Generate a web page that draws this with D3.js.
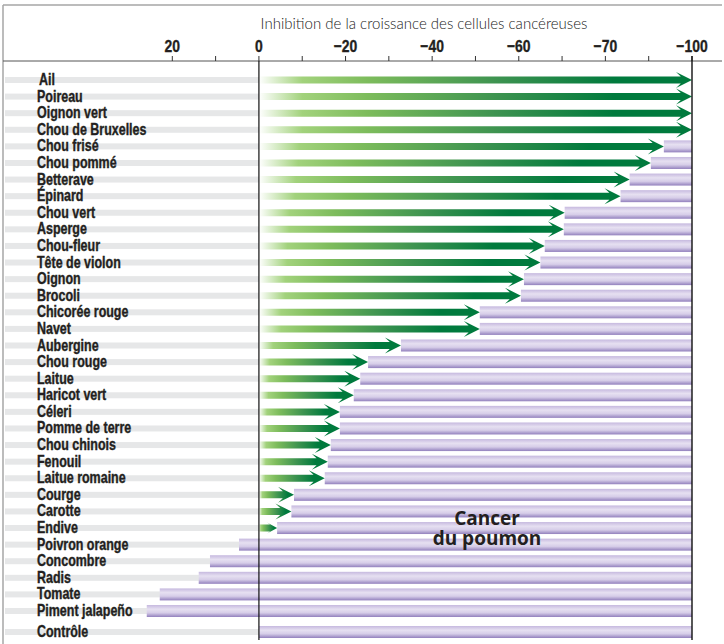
<!DOCTYPE html>
<html>
<head>
<meta charset="utf-8">
<script src="https://cdn.jsdelivr.net/npm/d3@7"></script>
<style>
  body { margin:0; background:#fff; }
  .lbl { font-family:"Liberation Sans",Arial,sans-serif; font-weight:bold; fill:#231f20; stroke:#231f20; stroke-width:0.35px; }
</style>
</head>
<body>
<svg id="chart" width="724" height="644"></svg>
<script>
// légumes (de haut en bas) et inhibition (%) ; valeurs positives = stimulation
var legumes = ["Ail","Poireau","Oignon vert","Chou de Bruxelles","Chou frisé","Chou pommé",
  "Betterave","Épinard","Chou vert","Asperge","Chou-fleur","Tête de violon","Oignon","Brocoli",
  "Chicorée rouge","Navet","Aubergine","Chou rouge","Laitue","Haricot vert","Céleri",
  "Pomme de terre","Chou chinois","Fenouil","Laitue romaine","Courge","Carotte","Endive",
  "Poivron orange","Concombre","Radis","Tomate","Piment jalapeño"];
var inhibition = [-100,-100,-100,-100,-93.5,-90.5,-85.6,-83.5,-70.6,-70.4,-66,-65,-61.2,-60.5,
  -51,-51,-32.8,-25.2,-23.4,-21.9,-18.7,-18.7,-16.6,-15.9,-15.2,-8.1,-7.5,-4.2,
  4.6,11.3,13.9,22.9,25.9];
var controle = {name:"Contrôle", value:0};

var tickValues = [20,0,-20,-40,-60,-80,-100];
var tickLabels = ["20","0","\u221220","\u221240","\u221260","\u221270","\u2212100"];
var minorTicks = [10,-10,-30,-50,-70,-90];

var titre = "Inhibition de la croissance des cellules cancéreuses";
var note = ["Cancer","du poumon"];

var svg = d3.select("#chart");
var defs = svg.append("defs");

var x = d3.scaleLinear().domain([20,-100]).range([172.3,692]);
var y = d3.scalePoint().domain(legumes).range([80,611]);
var yCtrl = 632;

var rows = legumes.map(function(d,i){ return {name:d, value:inhibition[i], y:y(d)}; });
rows.push({name:controle.name, value:controle.value, y:yCtrl});

// dégradés
var g1 = defs.append("linearGradient").attr("id","vert");
[[0,"#ffffff"],[0.1,"#a2d27c"],[0.25,"#7dbc5c"],[0.55,"#3d9350"],[0.82,"#007a3d"],[1,"#007a3d"]]
  .forEach(function(s){ g1.append("stop").attr("offset",s[0]).attr("stop-color",s[1]); });
var g2 = defs.append("linearGradient").attr("id","mauve").attr("x1",0).attr("x2",0).attr("y1",0).attr("y2",1);
[[0,"#c6b9df"],[0.35,"#e6e0f1"],[0.65,"#d6cde8"],[1,"#9280bd"]]
  .forEach(function(s){ g2.append("stop").attr("offset",s[0]).attr("stop-color",s[1]); });

// cadre
svg.append("line").attr("x1",3).attr("x2",722).attr("y1",5).attr("y2",5).attr("stroke","#a6a6a6").attr("stroke-width",1.5);
svg.append("line").attr("x1",3).attr("x2",3).attr("y1",5).attr("y2",644).attr("stroke","#a6a6a6").attr("stroke-width",1.5);

// titre
svg.append("text").attr("x",424).attr("y",29).attr("text-anchor","middle")
  .style("font-family","Lato, 'Open Sans', sans-serif").style("font-weight",300)
  .style("font-size","15px").style("fill","#222").text(titre);

// axe
var axe = svg.append("g").attr("transform","translate(0,61)");
axe.append("line").attr("x1",3).attr("x2",722).attr("stroke","#555").attr("stroke-width",1);
axe.selectAll(".tk").data(tickValues.concat(minorTicks)).enter().append("line")
  .attr("x1",function(d){return x(d);}).attr("x2",function(d){return x(d);})
  .attr("y1",-5).attr("y2",0).attr("stroke","#333").attr("stroke-width",1);
axe.selectAll(".tl").data(tickValues).enter().append("text").attr("class","lbl")
  .attr("transform",function(d){return "translate("+x(d)+",-9) scale(0.82,1)";})
  .attr("text-anchor","middle")
  .style("font-size","17px").text(function(d,i){return tickLabels[i];});

// bandes grises
svg.selectAll(".band").data(rows).enter().append("rect")
  .attr("x",5).attr("width",x(0)-5).attr("y",function(d){return d.y-3;}).attr("height",6)
  .attr("fill","#e6e7e8");

// barres mauves (cellules restantes)
svg.selectAll(".bar").data(rows.filter(function(d){return d.value>-100;})).enter().append("rect")
  .attr("x",function(d){return x(d.value);}).attr("width",function(d){return x(-100)-x(d.value);})
  .attr("y",function(d){return d.y-6;}).attr("height",12).attr("fill","url(#mauve)");

// flèches
function fleche(d){
  var x0 = x(0), tip = x(d.value), len = tip-x0;
  var hl = Math.min(16, len*0.55), hh = Math.min(8, hl*0.55), nb = tip-hl*0.7;
  return "M"+x0+","+(d.y-3.5)+"L"+nb+","+(d.y-3.5)+"L"+(tip-hl)+","+(d.y-hh)+"L"+tip+","+d.y+
    "L"+(tip-hl)+","+(d.y+hh)+"L"+nb+","+(d.y+3.5)+"L"+x0+","+(d.y+3.5)+"Z";
}
svg.selectAll(".arrow").data(rows.filter(function(d){return d.value<0;})).enter().append("path")
  .attr("d",fleche).attr("fill","url(#vert)");

// lignes verticales
svg.append("line").attr("x1",x(0)).attr("x2",x(0)).attr("y1",61).attr("y2",640).attr("stroke","#111").attr("stroke-width",1.2);
svg.append("line").attr("x1",x(-100)).attr("x2",x(-100)).attr("y1",56).attr("y2",640).attr("stroke","#111").attr("stroke-width",1.4);

// étiquettes
svg.selectAll(".name").data(rows).enter().append("text").attr("class","lbl")
  .attr("transform",function(d,i){return "translate("+(i===0?39:37)+","+(d.y+5)+") scale(0.78,1)";})
  .style("font-size","16px")
  .text(function(d){return d.name;});

svg.selectAll(".note").data(note).enter().append("text")
  .attr("x",487).attr("y",function(d,i){return 525+i*20;}).attr("text-anchor","middle")
  .style("font-family","'Open Sans', sans-serif").style("font-weight",700).style("font-size","19px")
  .style("fill","#231f20").text(function(d){return d;});
</script>
</body>
</html>
